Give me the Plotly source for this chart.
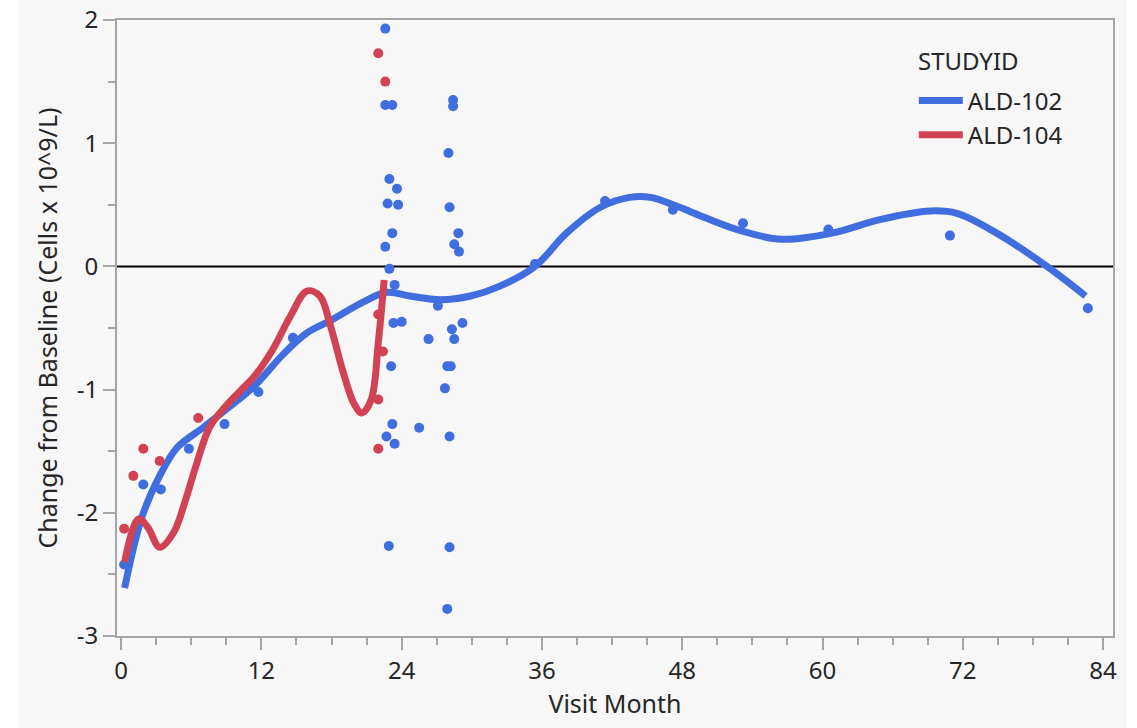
import plotly.graph_objects as go

# Observed changes from baseline, study ALD-102
ald102_month = [0.26, 1.9, 3.4, 5.8, 8.85, 11.75, 14.7,
                22.6, 22.6, 23.2, 22.95, 23.6, 22.8, 23.7, 23.2, 22.6, 22.95, 23.4,
                23.3, 24.0, 23.1, 23.2, 22.7, 23.4, 22.9,
                25.5, 26.3, 27.1,
                28.4, 28.4, 28.0, 28.1, 28.85, 28.5, 28.9, 28.3, 29.2, 28.5,
                27.9, 28.2, 27.7, 28.1, 28.1, 27.9,
                35.4, 41.4, 47.2, 53.2, 60.5, 70.9, 82.7]
ald102_change = [-2.42, -1.77, -1.81, -1.48, -1.28, -1.02, -0.58,
                 1.93, 1.31, 1.31, 0.71, 0.63, 0.51, 0.50, 0.27, 0.16, -0.02, -0.15,
                 -0.46, -0.45, -0.81, -1.28, -1.38, -1.44, -2.27,
                 -1.31, -0.59, -0.32,
                 1.35, 1.30, 0.92, 0.48, 0.27, 0.18, 0.12, -0.51, -0.46, -0.59,
                 -0.81, -0.81, -0.99, -1.38, -2.28, -2.78,
                 0.02, 0.53, 0.46, 0.35, 0.30, 0.25, -0.34]

# Observed changes from baseline, study ALD-104
ald104_month = [0.26, 1.05, 1.9, 3.3, 6.6, 22.0, 22.6, 22.0, 22.4, 22.0, 22.0]
ald104_change = [-2.13, -1.70, -1.48, -1.58, -1.23, 1.73, 1.50, -0.39, -0.69, -1.08, -1.48]

# Smoothing-spline fit values for each study
fit102_month = [0.3, 1.8, 3.3, 4.8, 7.0, 9.0, 11.3, 13.9, 15.9, 17.9, 20.7, 22.7,
                24.7, 27.3, 29.9, 32.4, 35.4, 38.1, 41.0, 43.5, 45.3, 47.5, 50.1,
                53.0, 56.5, 60.8, 64.9, 69.2, 71.5, 74.9, 79.2, 82.5]
fit102_change = [-2.61, -2.03, -1.70, -1.47, -1.31, -1.16, -0.98, -0.71, -0.54, -0.44,
                 -0.29, -0.21, -0.24, -0.27, -0.24, -0.16, 0.0, 0.27, 0.48, 0.56,
                 0.56, 0.49, 0.39, 0.29, 0.22, 0.27, 0.38, 0.45, 0.43, 0.27, 0.0, -0.24]

fit104_month = [0.3, 1.5, 2.3, 3.3, 4.5, 5.5, 6.4, 7.6, 9.0, 10.2, 11.5, 13.0,
                14.5, 15.9, 17.0, 17.9, 19.0, 19.9, 20.6, 21.4, 22.0, 22.5]
fit104_change = [-2.40, -2.05, -2.12, -2.28, -2.16, -1.90, -1.62, -1.30, -1.13, -1.01,
                 -0.88, -0.67, -0.40, -0.20, -0.24, -0.48, -0.86, -1.11, -1.19, -1.08,
                 -0.62, -0.11]

month_ticks = [0, 12, 24, 36, 48, 60, 72, 84]
change_ticks = [-3, -2, -1, 0, 1, 2]
change_labels = ["-3", "-2", "-1", "0", "1", "2"]

BLUE = "rgb(64,110,222)"
RED = "rgb(208,66,84)"
FONT = "Noto Sans"
TEXT = "#262626"
FRAME = "#a6a6a6"

fig = go.Figure()

fig.add_trace(go.Scatter(x=ald102_month, y=ald102_change, mode="markers",
                         marker=dict(color=BLUE, size=10), showlegend=False,
                         hoverinfo="x+y"))
fig.add_trace(go.Scatter(x=fit102_month, y=fit102_change, mode="lines",
                         line=dict(color=BLUE, width=7, shape="spline", smoothing=1.0),
                         name="ALD-102", legendgroup="ALD-102"))
fig.add_trace(go.Scatter(x=ald104_month, y=ald104_change, mode="markers",
                         marker=dict(color=RED, size=10), showlegend=False,
                         hoverinfo="x+y"))
fig.add_trace(go.Scatter(x=fit104_month, y=fit104_change, mode="lines",
                         line=dict(color=RED, width=7, shape="spline", smoothing=1.0),
                         name="ALD-104", legendgroup="ALD-104"))

axis_common = dict(
    showgrid=False, zeroline=False, showline=True, linecolor=FRAME, linewidth=2,
    mirror=True, ticks="outside", ticklen=12, tickwidth=2, tickcolor=FRAME,
    tickfont=dict(family=FONT, size=24, color=TEXT), automargin=False,
)

fig.update_layout(
    width=1137, height=728,
    margin=dict(l=117, r=24, t=20, b=92),
    paper_bgcolor="white",
    plot_bgcolor="white",
    font=dict(family=FONT, color=TEXT),
    xaxis=dict(range=[-0.35, 84.85], tickvals=month_ticks,
               minor=dict(dtick=3, tick0=0, ticks="outside", ticklen=7,
                          tickcolor=FRAME, tickwidth=2),
               title=dict(text="Visit Month", font=dict(family=FONT, size=25, color=TEXT),
                          standoff=10),
               **axis_common),
    yaxis=dict(range=[-3, 2], tickvals=change_ticks, ticktext=change_labels,
               minor=dict(dtick=0.5, tick0=0, ticks="outside", ticklen=7,
                          tickcolor=FRAME, tickwidth=2),
               title=dict(text="Change from Baseline (Cells x 10^9/L)",
                          font=dict(family=FONT, size=25, color=TEXT), standoff=12),
               **axis_common),
    legend=dict(x=0.8, y=0.905, xanchor="left", yanchor="top",
                bgcolor="rgba(0,0,0,0)",
                font=dict(family=FONT, size=24, color=TEXT),
                tracegroupgap=0, itemwidth=44),
    annotations=[
        dict(text="STUDYID", xref="paper", yref="paper", x=0.802, y=0.935,
             xanchor="left", yanchor="middle", showarrow=False,
             font=dict(family=FONT, size=24, color=TEXT)),
    ],
    shapes=[
        # light grey panel behind the graph
        dict(type="rect", xref="paper", yref="paper", x0=-0.0984, x1=1.0131,
             y0=-0.16, y1=1.04, fillcolor="#f7f7f7", line=dict(width=0), layer="below"),
        # reference line at zero change
        dict(type="line", xref="paper", yref="y", x0=0, x1=1, y0=0, y1=0,
             line=dict(color="black", width=2), layer="below"),
    ],
)

fig.write_html("out.html")
